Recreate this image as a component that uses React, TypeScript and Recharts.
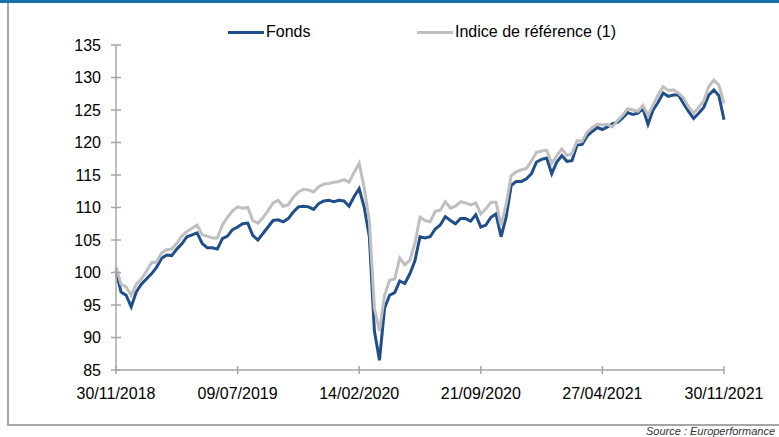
import { LineChart, Line, XAxis, YAxis } from 'recharts';

const TICK_LABELS = ['30/11/2018', '09/07/2019', '14/02/2020', '21/09/2020', '27/04/2021', '30/11/2021'];
const Y_TICKS = [85, 90, 95, 100, 105, 110, 115, 120, 125, 130, 135];

// Fonds (about every 9 days)
const FONDS = [
  100.2, 97.0, 96.5, 94.7, 97.0, 98.2, 99.0, 99.8, 100.8, 102.2,
  102.7, 102.6, 103.6, 104.4, 105.5, 105.8, 106.1, 104.5, 103.8, 103.8,
  103.6, 105.2, 105.6, 106.6, 107.0, 107.5, 107.6, 105.7, 105.0, 106.0,
  107.0, 108.0, 108.1, 107.8, 108.3, 109.3, 110.1, 110.2, 110.1, 109.7,
  110.6, 111.0, 111.1, 110.9, 111.1, 111.0, 110.2, 111.7, 112.9, 110.0,
  105.5, 91.0, 86.5, 94.5, 96.5, 96.9, 98.7, 98.3, 99.8, 101.8,
  105.5, 105.3, 105.5, 106.7, 107.3, 108.6, 108.0, 107.5, 108.3, 108.3,
  107.9, 108.9, 107.0, 107.3, 108.5, 109.0, 105.5, 108.5, 113.4, 114.0,
  114.0, 114.4, 115.2, 117.0, 117.4, 117.6, 115.2, 117.0, 118.0, 117.1,
  117.2, 119.6, 119.7, 121.0, 121.7, 122.3, 122.0, 122.4, 122.9, 123.1,
  123.8, 124.6, 124.3, 124.5, 125.2, 122.8, 125.0, 126.2, 127.6, 127.1,
  127.3, 127.3, 126.0, 124.8, 123.7, 124.5, 125.4, 127.3, 128.1, 127.2,
  123.5,
];

// Indice de référence (1)
const INDICE = [
  100.8, 98.2, 97.8, 96.5, 98.2, 99.0, 100.2, 101.5, 101.6, 103.0,
  103.5, 103.6, 104.5, 105.6, 106.3, 106.8, 107.3, 105.8, 105.6, 105.3,
  105.3, 107.3, 108.5, 109.5, 110.1, 109.9, 110.0, 108.0, 107.6, 108.4,
  109.5, 110.7, 111.1, 110.2, 110.4, 111.6, 112.4, 112.8, 112.7, 112.4,
  113.2, 113.6, 113.7, 113.9, 114.0, 114.3, 113.9, 115.4, 116.8, 113.0,
  108.0, 94.5, 91.0, 96.5, 98.8, 99.0, 102.2, 101.2, 101.9, 104.5,
  108.5, 108.0, 107.8, 109.4, 109.6, 110.9, 109.9, 110.2, 110.9, 110.7,
  110.4, 110.7, 109.0, 109.8, 110.8, 110.8, 107.2, 110.5, 114.9, 115.5,
  115.8, 116.0, 117.2, 118.5, 118.7, 118.8, 116.8, 118.0, 119.0, 118.0,
  118.3, 120.3, 120.2, 121.6, 122.3, 122.8, 122.7, 122.8, 122.4, 123.4,
  124.2, 125.2, 125.0, 124.8, 125.7, 124.2, 125.8, 127.3, 128.6, 128.0,
  128.1, 127.6, 126.9, 125.5, 124.5, 125.4, 126.4, 128.6, 129.6, 128.8,
  126.0,
];

const data = FONDS.map((v, i) => ({ t: i, fonds: v, indice: INDICE[i] }));
const last = FONDS.length - 1;
const xTicks = TICK_LABELS.map((_, k) => (k * last) / (TICK_LABELS.length - 1));

const BLUE = '#1F4E8A';
const GREY = '#BFBFBF';
const AXIS = '#A6A6A6';
const FONT = '"Liberation Sans", Arial, sans-serif';

function XTick({ x, y, payload }: any) {
  const k = xTicks.indexOf(payload.value);
  return (
    <g>
      <line x1={x} x2={x} y1={y - 4} y2={y + 4} stroke={AXIS} strokeWidth={1.5} />
      <text x={x} y={y + 29} textAnchor="middle" fill="#000" fontSize={16} fontFamily={FONT}>
        {TICK_LABELS[k]}
      </text>
    </g>
  );
}

function YTick({ x, y, payload }: any) {
  return (
    <g>
      <line x1={x - 5} x2={x + 5} y1={y} y2={y} stroke={AXIS} strokeWidth={1.5} />
      <text x={x - 15} y={y} dy="0.36em" textAnchor="end" fill="#000" fontSize={16} fontFamily={FONT}>
        {payload.value}
      </text>
    </g>
  );
}

function LegendItem({ left, color, label }: { left: number; color: string; label: string }) {
  return (
    <div style={{ position: 'absolute', left, top: 23, display: 'flex', alignItems: 'center', whiteSpace: 'nowrap' }}>
      <div style={{ width: 36, height: 3, background: color, marginRight: 2 }} />
      <span style={{ fontFamily: FONT, fontSize: 16, color: '#000' }}>{label}</span>
    </div>
  );
}

export default function App() {
  return (
    <div style={{ position: 'absolute', left: 0, top: 0, width: 779, height: 437, overflow: 'hidden', background: '#fff' }}>
      <div style={{ position: 'absolute', left: 0, top: 0, width: 779, height: 3, background: '#1B6FA8' }} />
      <div style={{ position: 'absolute', left: 7, top: 3, width: 1.5, height: 422, background: AXIS }} />
      <div style={{ position: 'absolute', left: 7, top: 424, width: 772, height: 1.5, background: AXIS }} />

      <div style={{ position: 'absolute', left: 0, top: 0 }}>
        <LineChart width={779} height={437} data={data} margin={{ top: 45, right: 55, bottom: 37, left: 0 }}>
          <XAxis
            dataKey="t"
            type="number"
            domain={[0, last]}
            ticks={xTicks}
            height={30}
            tickSize={0}
            tickMargin={0}
            tick={<XTick />}
            axisLine={{ stroke: AXIS, strokeWidth: 1.5 }}
            tickLine={false}
            interval={0}
          />
          <YAxis
            type="number"
            domain={[85, 135]}
            ticks={Y_TICKS}
            width={116}
            tickSize={0}
            tickMargin={0}
            tick={<YTick />}
            axisLine={{ stroke: AXIS, strokeWidth: 1.5 }}
            tickLine={false}
            interval={0}
          />
          <Line dataKey="fonds" name="Fonds" stroke={BLUE} strokeWidth={3} dot={false} isAnimationActive={false} />
          <Line dataKey="indice" name="Indice de référence (1)" stroke={GREY} strokeWidth={3} dot={false} isAnimationActive={false} />
        </LineChart>
      </div>

      <LegendItem left={228} color={BLUE} label="Fonds" />
      <LegendItem left={417} color={GREY} label="Indice de référence (1)" />

      <div style={{ position: 'absolute', left: 646, top: 425, fontFamily: FONT, fontSize: 11, fontStyle: 'italic', color: '#333', whiteSpace: 'nowrap' }}>
        Source : Europerformance
      </div>
    </div>
  );
}
